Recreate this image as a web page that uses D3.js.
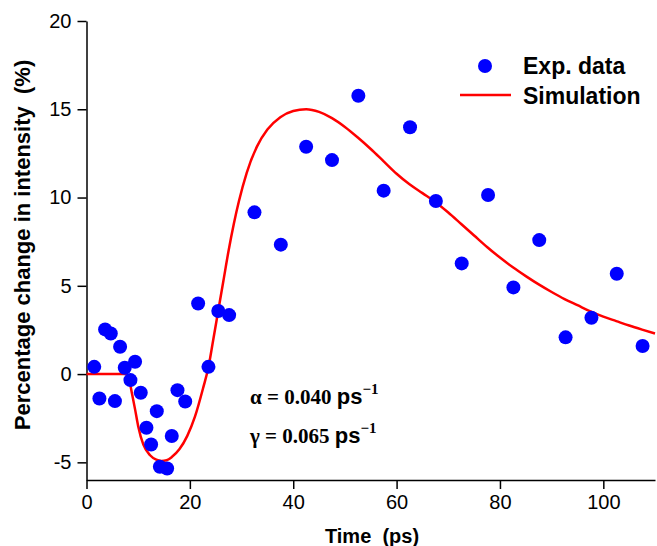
<!DOCTYPE html>
<html>
<head>
<meta charset="utf-8">
<script src="https://cdn.jsdelivr.net/npm/d3@7"></script>
<style>
  html, body { margin: 0; padding: 0; background: #fff; }
  svg { display: block; }
</style>
</head>
<body>
<div class="chart"></div>
<script>
// experimental points
var expTime = [1.5, 2.5, 3.6, 4.7, 5.5, 6.5, 7.4, 8.5, 9.4, 10.5, 11.6, 12.5, 13.6, 14.2, 15.6, 16.5, 17.6, 19.1,
  21.6, 23.6, 25.5, 27.6, 32.5, 37.6, 42.5, 47.5, 52.6, 57.5, 62.6, 67.6, 72.6, 77.7, 82.6, 87.6, 92.7, 97.7, 102.6, 107.6];
var expValue = [0.41, -1.38, 2.53, 2.3, -1.53, 1.55, 0.36, -0.34, 0.70, -1.06, -3.04, -3.99, -2.1, -5.25, -5.35, -3.51, -0.91, -1.55,
  4.0, 0.41, 3.57, 3.34, 9.16, 7.33, 12.88, 12.12, 15.77, 10.39, 13.98, 9.80, 6.27, 10.14, 4.91, 7.59, 2.08, 3.19, 5.68, 1.59];

// simulation curve
var simTime = [0, 7.6, 8.2, 8.8, 9.4, 10, 11, 12.3, 13.5, 14.5, 15.5, 16.5, 18, 19.5, 21, 22.6, 23.6, 24.5, 25.5, 26.5,
  27.5, 28.5, 29.5, 31, 33, 35, 37.5, 40, 42.5, 45, 47.5, 50, 52.5, 55, 57.5, 60, 62.5, 65, 67.5, 70,
  72.5, 75, 77.5, 80, 82.5, 85, 87.5, 90, 92.5, 95, 97.5, 100, 102.5, 105, 107.5, 110];
var simValue = [0, 0, -0.25, -1.1, -2.0, -2.95, -4.0, -4.6, -4.85, -4.92, -4.88, -4.7, -4.25, -3.5, -2.4, -0.75, 0.4, 1.9, 3.6, 5.3,
  7.0, 8.5, 9.8, 11.4, 12.9, 13.85, 14.55, 14.9, 15.0, 14.85, 14.5, 14.0, 13.4, 12.75, 12.05, 11.35, 10.75, 10.25, 9.75, 9.15,
  8.5, 7.85, 7.2, 6.6, 6.05, 5.55, 5.08, 4.65, 4.25, 3.9, 3.55, 3.25, 3.0, 2.75, 2.52, 2.3];

var xMajor = [0, 20, 40, 60, 80, 100];
var xMinor = [10, 30, 50, 70, 90, 110];
var yMajor = [-5, 0, 5, 10, 15, 20];
var yMinor = d3.range(-6, 21).filter(v => yMajor.indexOf(v) < 0);

var width = 657;
var height = 546;
var sans = "Arial, 'Liberation Sans', sans-serif";
var serif = "'Times New Roman', 'Liberation Serif', serif";

var svg = d3.select(".chart")
  .append("svg")
  .attr("width", width)
  .attr("height", height);

var x = d3.scaleLinear().domain([0, 110]).range([86.5, 655]);
var y = d3.scaleLinear().domain([-6, 20]).range([480, 21]);

// x axis
var gx = svg.append("g").attr("transform", "translate(0,480)");
gx.call(d3.axisBottom(x).tickValues(xMinor).tickSize(5).tickFormat(""));
gx.call(d3.axisBottom(x).tickValues(xMajor).tickSize(9).tickPadding(6).tickSizeOuter(0).tickFormat(d => String(d)));
gx.selectAll(".domain").attr("stroke-width", 1.5);
gx.selectAll("line").attr("stroke-width", 1.5);
gx.selectAll("text").attr("font-family", sans).attr("font-size", 20).attr("fill", "#000");

// y axis
var gy = svg.append("g").attr("transform", "translate(86.5,0)");
gy.call(d3.axisLeft(y).tickValues(yMinor).tickSize(5).tickFormat(""));
gy.call(d3.axisLeft(y).tickValues(yMajor).tickSize(9).tickPadding(6).tickSizeOuter(0).tickFormat(d => String(d)));
gy.selectAll(".domain").attr("stroke-width", 1.5);
gy.selectAll("line").attr("stroke-width", 1.5);
gy.selectAll("text").attr("font-family", sans).attr("font-size", 20).attr("fill", "#000");

// axis titles
svg.append("text")
  .attr("x", 372).attr("y", 543)
  .attr("text-anchor", "middle")
  .attr("font-family", sans).attr("font-weight", "bold").attr("font-size", 20)
  .attr("xml:space", "preserve")
  .text("Time  (ps)");

svg.append("text")
  .attr("transform", "translate(30,245) rotate(-90)")
  .attr("text-anchor", "middle")
  .attr("font-family", sans).attr("font-weight", "bold").attr("font-size", 22)
  .attr("xml:space", "preserve")
  .text("Percentage change in intensity  (%)");

// simulation line
var line = d3.line()
  .x((d, i) => x(simTime[i]))
  .y(d => y(d))
  .curve(d3.curveMonotoneX);

svg.append("path")
  .datum(simValue)
  .attr("d", line)
  .attr("fill", "none")
  .attr("stroke", "#ff0000")
  .attr("stroke-width", 2.5);

// experimental dots
svg.append("g")
  .selectAll("circle")
  .data(expValue)
  .enter()
  .append("circle")
  .attr("cx", (d, i) => x(expTime[i]))
  .attr("cy", d => y(d))
  .attr("r", 7)
  .attr("fill", "#0000ff");

// legend
var lg = svg.append("g");
lg.append("circle").attr("cx", 485).attr("cy", 66).attr("r", 7).attr("fill", "#0000ff");
lg.append("line").attr("x1", 460).attr("x2", 511).attr("y1", 95).attr("y2", 95)
  .attr("stroke", "#ff0000").attr("stroke-width", 2.5);
lg.append("text").attr("x", 523).attr("y", 74)
  .attr("font-family", sans).attr("font-weight", "bold").attr("font-size", 23)
  .text("Exp. data");
lg.append("text").attr("x", 523).attr("y", 104)
  .attr("font-family", sans).attr("font-weight", "bold").attr("font-size", 23)
  .text("Simulation");

// rate constants
function rate(yPos, sym, val) {
  var t = svg.append("text").attr("x", 250).attr("y", yPos)
    .attr("font-family", serif).attr("font-weight", "bold").attr("font-size", 21);
  t.append("tspan").text(sym + " = " + val + " ");
  t.append("tspan").attr("font-family", sans).attr("font-size", 22).text("ps");
  t.append("tspan").attr("font-size", 15).attr("dy", -10).text("\u22121");
}
rate(404, "\u03b1", "0.040");
rate(443, "\u03b3", "0.065");
</script>
</body>
</html>
